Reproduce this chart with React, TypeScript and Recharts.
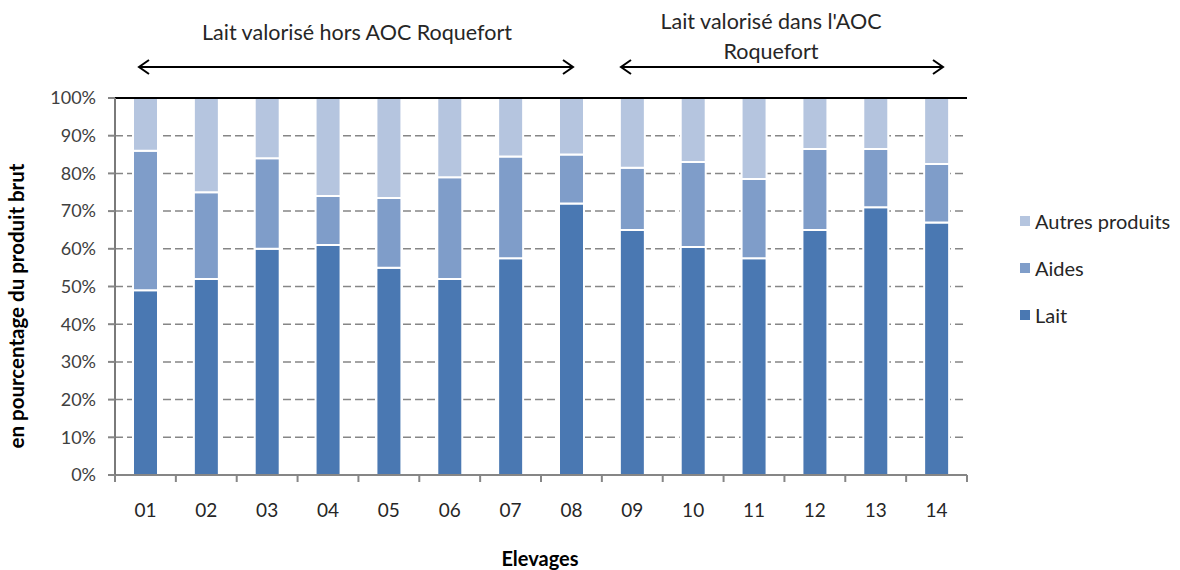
import React from 'react';
import {
  BarChart,
  Bar,
  XAxis,
  YAxis,
  CartesianGrid,
  ReferenceLine,
  Legend,
} from 'recharts';

const categories = ['01', '02', '03', '04', '05', '06', '07', '08', '09', '10', '11', '12', '13', '14'];
const lait = [49, 52, 60, 61, 55, 52, 57.5, 72, 65, 60.5, 57.5, 65, 71, 67];
const aides = [37, 23, 24, 13, 18.5, 27, 27, 13, 16.5, 22.5, 21, 21.5, 15.5, 15.5];
const autres = [14, 25, 16, 26, 26.5, 21, 15.5, 15, 18.5, 17, 21.5, 13.5, 13.5, 17.5];
const yTicks = [0, 10, 20, 30, 40, 50, 60, 70, 80, 90, 100];

const series = [
  { key: 'lait', name: 'Lait', color: '#4a78b2' },
  { key: 'aides', name: 'Aides', color: '#7f9dc9' },
  { key: 'autres', name: 'Autres produits', color: '#b5c5df' },
];

const data = categories.map((c, i) => ({
  name: c,
  lait: lait[i],
  aides: aides[i],
  autres: autres[i],
}));

const FONT = 'Lato, "Open Sans", sans-serif';
const GRAY = '#868686';

// category label plus a tick mark on each category boundary
function CatTick(props: any) {
  const { x, y, payload, index, visibleTicksCount } = props;
  const half = payload.offset || 0;
  return (
    <g>
      <line x1={x - half} x2={x - half} y1={y} y2={y + 7} stroke={GRAY} strokeWidth={2} />
      {index === visibleTicksCount - 1 && (
        <line x1={x + half} x2={x + half} y1={y} y2={y + 7} stroke={GRAY} strokeWidth={2} />
      )}
      <text x={x} y={y + 42} textAnchor="middle" fontSize={19} fontFamily={FONT} fill="#262626">
        {payload.value}
      </text>
    </g>
  );
}

function LegendBox() {
  const items = [...series].reverse();
  return (
    <div style={{ fontFamily: FONT, fontSize: 20, color: '#262626' }}>
      {items.map(s => (
        <div key={s.key} style={{ display: 'flex', alignItems: 'center', height: 47 }}>
          <span style={{ width: 10, height: 10, background: s.color, marginRight: 5, display: 'inline-block' }} />
          {s.name}
        </div>
      ))}
    </div>
  );
}

function Arrow({ x1, x2, y }: { x1: number; x2: number; y: number }) {
  const h = 7;
  return (
    <g stroke="#000" strokeWidth={2} fill="none">
      <line x1={x1} y1={y} x2={x2} y2={y} />
      <polyline points={`${x1 + h + 3},${y - h} ${x1},${y} ${x1 + h + 3},${y + h}`} />
      <polyline points={`${x2 - h - 3},${y - h} ${x2},${y} ${x2 - h - 3},${y + h}`} />
    </g>
  );
}

export default function App() {
  return (
    <div style={{ position: 'relative', width: 1180, height: 570, background: '#fff' }}>
      <style>{'body{margin:0}'}</style>
      <BarChart
        width={1180}
        height={570}
        data={data}
        margin={{ top: 98, right: 213, left: 55, bottom: 0 }}
      >
        <CartesianGrid vertical={false} yAxisId="left" xAxisId="cat" stroke={GRAY} strokeDasharray="8 4" strokeWidth={1.5} />
        {/* solid left frame line at the plot's left edge */}
        <CartesianGrid
          horizontal={false}
          yAxisId="left"
          xAxisId="cat"
          stroke="#7a7a7a"
          strokeWidth={2}
          verticalCoordinatesGenerator={({ offset }: any) => [offset.left]}
        />
        <XAxis
          xAxisId="cat"
          dataKey="name"
          height={95}
          axisLine={{ stroke: GRAY, strokeWidth: 2 }}
          tickLine={false}
          tickSize={0}
          tickMargin={0}
          interval={0}
          tick={<CatTick />}
        />
        <YAxis
          yAxisId="left"
          domain={[0, 100]}
          ticks={yTicks}
          width={60}
          tickSize={7}
          tickMargin={12}
          tickFormatter={v => `${v}%`}
          tick={{ fill: '#404040', fontSize: 18, fontFamily: FONT }}
          axisLine={{ stroke: '#7a7a7a', strokeWidth: 2 }}
          tickLine={{ stroke: GRAY, strokeWidth: 2 }}
        />
        <YAxis
          yAxisId="right"
          orientation="right"
          domain={[0, 100]}
          width={0}
          tick={false}
          tickLine={false}
          axisLine={{ stroke: '#000', strokeWidth: 2 }}
        />
        {series.map(s => (
          <Bar
            key={s.key}
            dataKey={s.key}
            name={s.name}
            stackId="a"
            xAxisId="cat"
            yAxisId="left"
            fill={s.color}
            stroke="#fff"
            strokeWidth={2}
            barSize={25}
            isAnimationActive={false}
          />
        ))}
        <ReferenceLine y={100} yAxisId="left" xAxisId="cat" stroke="#000" strokeWidth={2} />
        <Legend
          layout="vertical"
          align="center"
          verticalAlign="middle"
          wrapperStyle={{ left: 1020, top: 197, width: 160 }}
          content={() => <LegendBox />}
        />
      </BarChart>
      <svg
        width={1180}
        height={570}
        style={{ position: 'absolute', left: 0, top: 0, pointerEvents: 'none' }}
        fontFamily={FONT}
      >
        <text x={357} y={40} textAnchor="middle" fontSize={21.5} fill="#262626">
          Lait valorisé hors AOC Roquefort
        </text>
        <Arrow x1={139} x2={573} y={67} />
        <text x={771} y={29} textAnchor="middle" fontSize={21.5} fill="#262626">
          Lait valorisé dans l'AOC
        </text>
        <text x={771} y={59} textAnchor="middle" fontSize={21.5} fill="#262626">
          Roquefort
        </text>
        <Arrow x1={621} x2={943} y={67} />
        <text x={540} y={566} textAnchor="middle" fontSize={20} fontWeight="bold" fill="#000">
          Elevages
        </text>
        <text
          x={0}
          y={0}
          transform="translate(24,306) rotate(-90)"
          textAnchor="middle"
          fontSize={20.5}
          fontWeight="bold"
          fill="#000"
        >
          en pourcentage du produit brut
        </text>
      </svg>
    </div>
  );
}
